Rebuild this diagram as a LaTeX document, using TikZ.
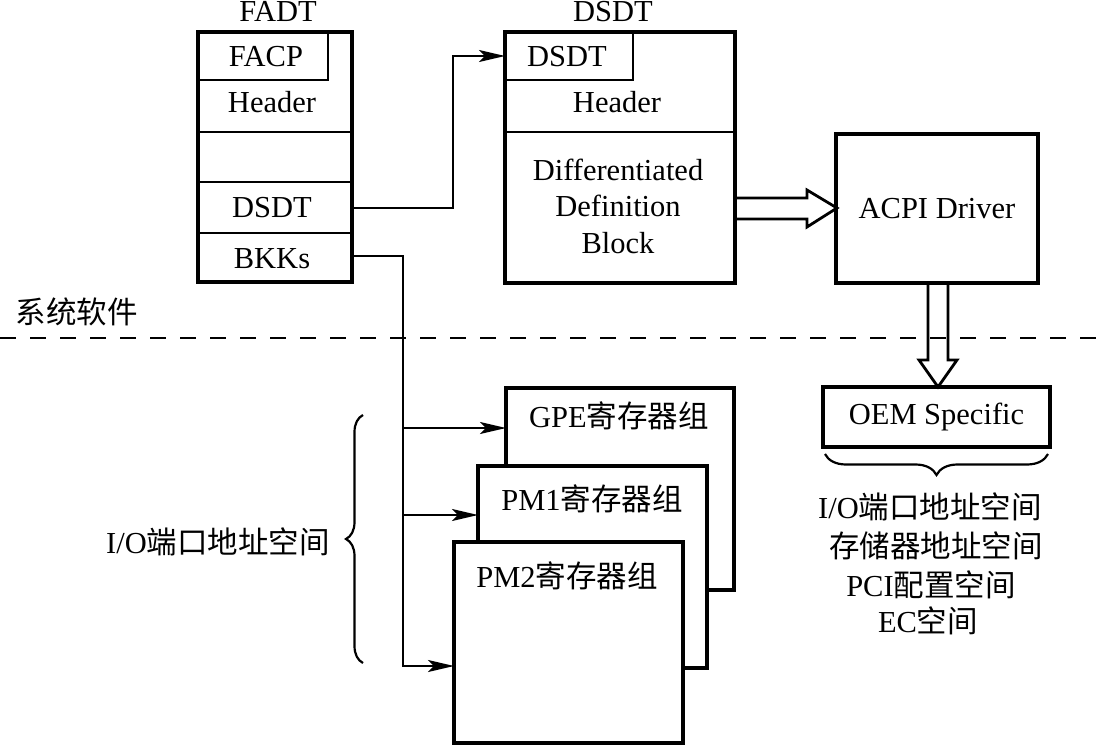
\documentclass[tikz,border=0pt]{standalone}
\usepackage{fontspec}
\setmainfont{Liberation Serif}
\newfontfamily\cjk{Noto Sans CJK SC}
\usetikzlibrary{arrows.meta,decorations.pathreplacing}
\begin{document}
\begin{tikzpicture}[x=1pt,y=-1pt,
  every node/.style={font=\fontsize{30.5}{36.5}\selectfont, inner sep=0pt, outer sep=0pt},
  box/.style={draw, line width=3.2pt, anchor=north west, fill=white},
  inbox/.style={draw, line width=2.4pt, anchor=north west},
  divider/.style={line width=2.4pt},
  wire/.style={line width=2.2pt},
  conn/.style={line width=2.2pt, -{Stealth[length=26pt,width=12pt,inset=6pt]}},
  hollow/.style={line width=2.8pt, line join=miter},
  bracestyle/.style={line width=2.2pt, decorate},
  lbl/.style={anchor=base}]
\useasboundingbox (0,0) rectangle (1100,746);

% ---- FADT table
\node[inbox, minimum width=130pt, minimum height=48pt] (facp) at (198,32) {};
\node[box, fill=none, minimum width=154pt, minimum height=250pt] (fadt) at (198,32) {};
\draw[divider] (198,132) -- (352,132);
\draw[divider] (198,182) -- (352,182);
\draw[divider] (198,233) -- (352,233);
\node[lbl] (fadtlbl) at (278,22) {FADT};
\node[lbl] (facptxt) at (266,67) {FACP};
\node[lbl] (fhdr) at (272,113) {Header};
\node[lbl] (fdsdt) at (272,218) {DSDT};
\node[lbl] (fbkk) at (272,268) {BKKs};

% ---- DSDT table
\node[inbox, minimum width=128pt, minimum height=48pt] (dsdtin) at (505,32) {};
\node[box, fill=none, minimum width=230pt, minimum height=251pt] (dsdt) at (505,32) {};
\draw[divider] (505,132) -- (735,132);
\node[lbl] (dsdtlbl) at (613,22) {DSDT};
\node[lbl] (dsdtintxt) at (567,67) {DSDT};
\node[lbl] (dhdr) at (617,113) {Header};
\node[align=center] (ddb) at (618,206.3) {Differentiated\\Definition\\Block};

% ---- ACPI driver and OEM
\node[box, minimum width=202pt, minimum height=149pt] (acpi) at (836,134) {};
\node (acpitxt) at (acpi.center) {ACPI Driver};
\node[box, minimum width=227pt, minimum height=60pt] (oem) at (823,387) {};
\node (oemtxt) at (oem.center) {OEM Specific};

% ---- hollow arrows
\draw[hollow] (735,198) -- (807,198) -- (807,190) -- (837,208) -- (807,227) -- (807,219) -- (735,219);

% ---- dashed separator
\draw[line width=2.4pt, dash pattern=on 16pt off 14pt] (0,338) -- (1100,338);
\node[lbl] (syssw) at (77,323) {\cjk 系统软件};

\draw[hollow] (928,282) -- (928,360) -- (919,360) -- (938,387) -- (957,360) -- (948,360) -- (948,282);

% ---- register groups
\node[box, minimum width=228pt, minimum height=202pt] (gpe) at (506,388) {};
\node[lbl] (gpetxt) at (619,427) {GPE{\cjk 寄存器组}};
\node[box, minimum width=229pt, minimum height=202pt] (pm1) at (478,466) {};
\node[lbl] (pm1txt) at (592,510) {PM1{\cjk 寄存器组}};
\node[box, minimum width=229pt, minimum height=201pt] (pm2) at (454,542) {};
\node[lbl] (pm2txt) at (567,587) {PM2{\cjk 寄存器组}};

% ---- connectors
\coordinate (bendD) at (453,208);
\draw[conn] (fadt.east |- bendD) -- (bendD) |- (dsdtin.west);
\coordinate (busTop) at (403,256);
\coordinate (busBot) at (403,666);
\draw[conn] (fadt.east |- busTop) -- (busTop) -- (busBot) -- (busBot -| pm2.west);
\coordinate (tapG) at (403,428);
\draw[conn] (tapG) -- (tapG -| gpe.west);
\coordinate (tapP) at (403,515);
\draw[conn] (tapP) -- (tapP -| pm1.west);

% ---- braces and address-space labels
\draw[bracestyle, decoration={brace, amplitude=17pt}] (363,663) -- (363,415);
\node[lbl] (ioleft) at (218,553) {I/O{\cjk 端口地址空间}};
\draw[bracestyle, decoration={brace, amplitude=21pt}] (1048,454) -- (825,454);
\node[lbl] (ms1) at (930,518) {I/O{\cjk 端口地址空间}};
\node[lbl] (ms2) at (936,557) {\cjk 存储器地址空间};
\node[lbl] (ms3) at (931,596) {PCI{\cjk 配置空间}};
\node[lbl] (ms4) at (928,632) {EC{\cjk 空间}};
\end{tikzpicture}
\end{document}
